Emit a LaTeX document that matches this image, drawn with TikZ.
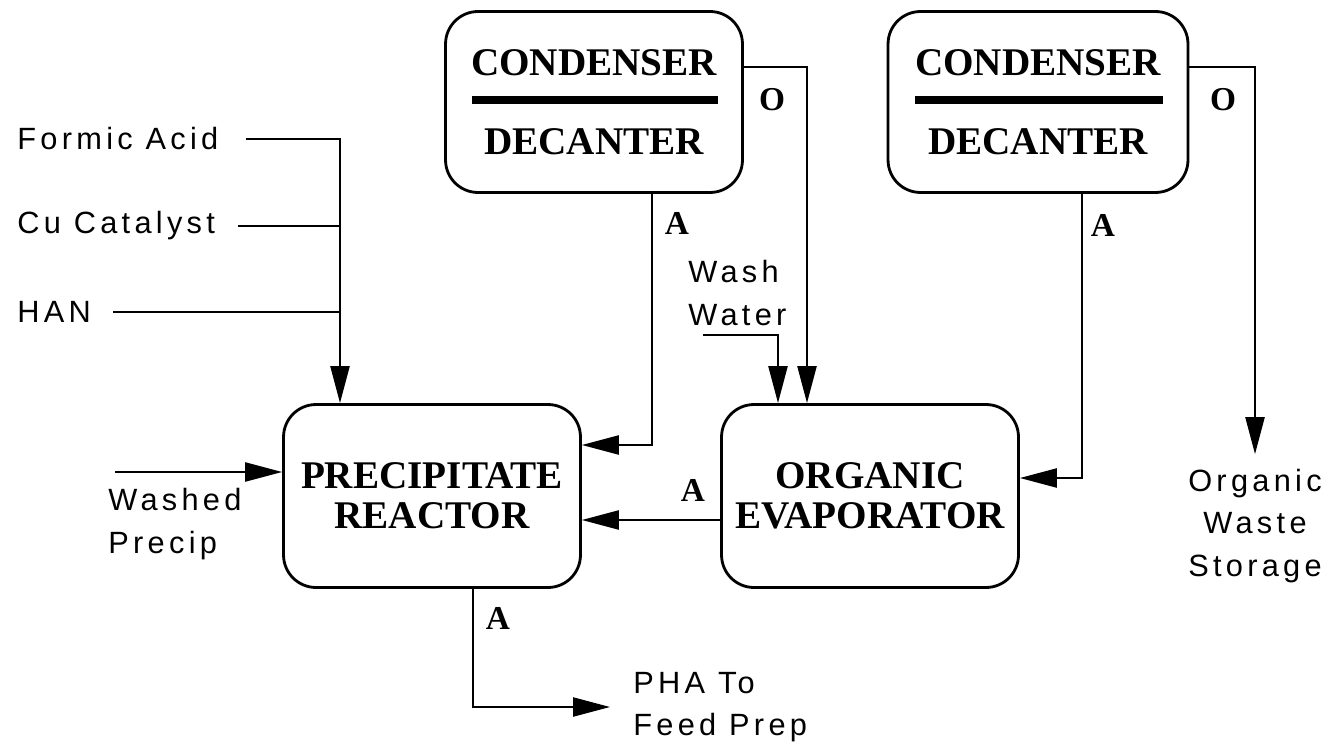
\documentclass[tikz,border=0pt]{standalone}
\usepackage{fontspec}
\setmainfont{Liberation Serif}
\newfontfamily\flowfont[LetterSpace=14]{Liberation Sans}
\usetikzlibrary{arrows.meta,calc}

\tikzset{
	unit/.style={draw, line width=1.6pt, rounded corners=0.65cm, minimum width=5.94cm, minimum height=3.66cm, align=center, font=\fontsize{22.3}{23}\selectfont\bfseries},
	stream/.style={line width=1.3pt},
	feed/.style={stream, -{Triangle[length=0.74cm,width=0.38cm]}},
	tag/.style={font=\fontsize{19}{21}\selectfont\bfseries, inner sep=0pt},
	flowtxt/.style={font=\fontsize{17.5}{24}\selectfont\flowfont, align=left, inner sep=0pt},
	sepbar/.style={line width=4.5pt},
}

\begin{document}
\begin{tikzpicture}[x=0.02cm, y=-0.02cm]
		\useasboundingbox (0,0) rectangle (1328,743);
		% process units
		\node[unit] (prx) at (432,496) {PRECIPITATE\\REACTOR};
		\node[unit] (evp) at (870,496) {ORGANIC\\EVAPORATOR};
		\node[unit, minimum height=3.62cm] (cd1) at (594,102) {CONDENSER\\[22pt]DECANTER};
		\node[unit, minimum height=3.62cm, minimum width=6cm] (cd2) at (1038,102) {CONDENSER\\[22pt]DECANTER};
		\draw[sepbar] ($(cd1.center)+(-122,-2)$) -- ($(cd1.center)+(124,-2)$);
		\draw[sepbar] ($(cd2.center)+(-123,-2)$) -- ($(cd2.center)+(125,-2)$);
		% feeds
		\node[flowtxt, anchor=west] (fa) at (17,139) {Formic Acid};
		\node[flowtxt, anchor=west] (cu) at (17,226) {Cu Catalyst};
		\node[flowtxt, anchor=west] (han) at (17,312) {HAN};
		\coordinate (jfd) at (340,139);
		\draw[stream] ([xshift=0.46cm]cu.east) -- (cu.east -| jfd);
		\draw[stream] ([xshift=0.44cm]han.east) -- (han.east -| jfd);
		\draw[feed] ([xshift=0.54cm]fa.east) -| (jfd |- prx.north);
		\node[flowtxt, anchor=west] (wp) at (108,524) {Washed\\Precip};
		\coordinate (wp0) at (115,472);
		\draw[feed] (wp0) -- (wp0 -| prx.west);
		\node[flowtxt, anchor=west] (ww) at (688,293) {Wash\\Water};
		\coordinate (ww0) at (703,335);
		\draw[feed] (ww0) -| ($(evp.north)+(-92,0)$);
		% recycle streams
		\draw[feed] ($(cd1.east)+(0,-35)$) -| ($(evp.north)+(-63,0)$);
		\node[tag] (o1) at (772,100) {O};
		\draw[feed] ($(cd1.south)+(58,0)$) |- ($(prx.east)+(0,-51)$);
		\node[tag] (a1) at (677,223) {A};
		\draw[feed] ($(evp.west)+(0,24)$) -- ($(prx.east)+(0,24)$);
		\node[tag] (a3) at (693,490) {A};
		\draw[feed] ($(cd2.south)+(44,0)$) |- ($(evp.east)+(0,-18)$);
		\node[tag] (a2) at (1103,225) {A};
		% products
		\node[flowtxt, align=center] (ows) at (1255,526) {Organic\\Waste\\Storage};
		\draw[feed] ($(cd2.east)+(0,-35)$) -| ([yshift=0.3cm]ows.north);
		\node[tag] (o2) at (1223,100) {O};
		\node[flowtxt, anchor=west] (pha) at (633,707) {PHA To\\Feed Prep};
		\draw[feed] ($(prx.south)+(41,0)$) |- ([xshift=-0.46cm]pha.west);
		\node[tag] (a4) at (498,618) {A};
	\end{tikzpicture}
\end{document}
